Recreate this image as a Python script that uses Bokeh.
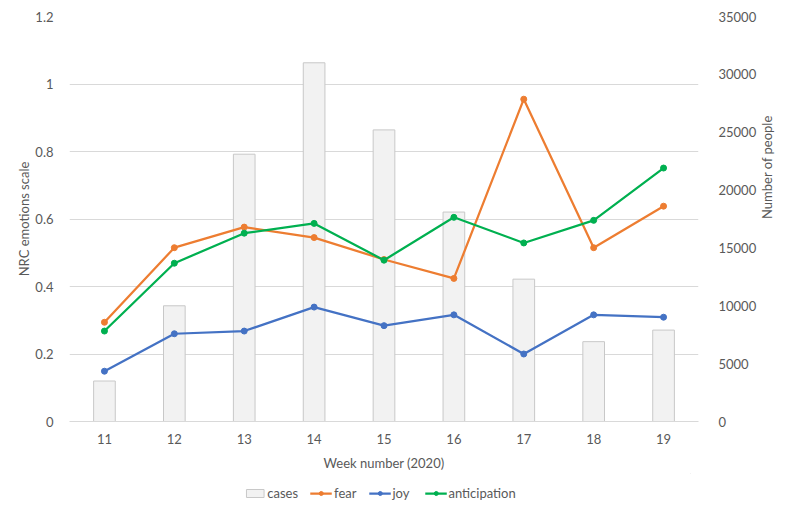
import math
from bokeh.plotting import figure
from bokeh.layouts import column
from bokeh.models import (FactorRange, Range1d, LinearAxis, Legend, LegendItem,
                          FixedTicker, NumeralTickFormatter, ColumnDataSource)
from bokeh.embed import file_html
from bokeh.resources import INLINE

weeks = ["11", "12", "13", "14", "15", "16", "17", "18", "19"]
cases = [3500, 10000, 23100, 31000, 25200, 18100, 12300, 6900, 7900]
fear = [0.294, 0.515, 0.576, 0.545, 0.48, 0.424, 0.955, 0.515, 0.638]
joy = [0.149, 0.26, 0.268, 0.339, 0.284, 0.316, 0.2, 0.316, 0.309]
anticipation = [0.268, 0.469, 0.558, 0.587, 0.478, 0.605, 0.529, 0.596, 0.751]
left_ticks = [0, 0.2, 0.4, 0.6, 0.8, 1, 1.2]
right_ticks = [0, 5000, 10000, 15000, 20000, 25000, 30000, 35000]

FONT = "Lato"
TXT = "#595959"
GRID = "#D9D9D9"
BAR_FILL, BAR_LINE = "#F2F2F2", "#C8C8C8"
series = [("fear", "#ED7D31"), ("joy", "#4472C4"), ("anticipation", "#00B050")]

src = ColumnDataSource(dict(week=weeks, cases=cases, fear=fear, joy=joy,
                            anticipation=anticipation))

p = figure(x_range=FactorRange(*weeks, range_padding=0), y_range=Range1d(0, 1.2),
           frame_width=629, frame_height=405, output_backend="svg", toolbar_location=None,
           min_border_left=69, min_border_right=80, min_border_top=16, min_border_bottom=4)
p.extra_y_ranges = {"cases": Range1d(0, 35000)}
p.outline_line_color = None

p.vbar(x="week", top="cases", width=0.31, source=src, y_range_name="cases",
       fill_color=BAR_FILL, line_color=BAR_LINE, line_width=1)
for name, col in series:
    p.line(x="week", y=name, source=src, line_color=col, line_width=2.25)
    p.scatter(x="week", y=name, source=src, size=6, fill_color=col, line_color=col)

# grid
p.xgrid.grid_line_color = None
p.ygrid.grid_line_color = GRID
p.ygrid.ticker = FixedTicker(ticks=left_ticks)

# left axis
ya = p.yaxis[0]
ya.ticker = FixedTicker(ticks=left_ticks)
ya.major_label_overrides = {t: ("%g" % t) for t in left_ticks}
ya.axis_line_color = None
ya.major_tick_line_color = None
ya.minor_tick_line_color = None
ya.major_label_standoff = 10
ya.axis_label = "NRC emotions scale"
ya.axis_label_standoff = 0

# right axis
ra = LinearAxis(y_range_name="cases", ticker=FixedTicker(ticks=right_ticks),
                formatter=NumeralTickFormatter(format="0"))
ra.axis_line_color = None
ra.major_tick_line_color = None
ra.minor_tick_line_color = None
ra.major_label_standoff = 14
ra.axis_label = "Number of people"
ra.axis_label_standoff = 8
ra.axis_label_orientation = math.pi / 2
p.add_layout(ra, "right")

# x axis
xa = p.xaxis[0]
xa.axis_line_color = GRID
xa.major_tick_line_color = None
xa.minor_tick_line_color = None
xa.major_label_standoff = 6
xa.axis_label = "Week number (2020)"
xa.axis_label_standoff = 8

for ax in [ya, ra, xa]:
    ax.major_label_text_font = FONT
    ax.major_label_text_font_size = "13px"
    ax.major_label_text_color = TXT
    ax.axis_label_text_font = FONT
    ax.axis_label_text_font_size = "13px"
    ax.axis_label_text_font_style = "normal"
    ax.axis_label_text_color = TXT

# legend strip (separate figure; its sample renderers sit outside the visible range)
leg = figure(width=778, height=40, output_backend="svg", toolbar_location=None,
             x_range=Range1d(0, 1), y_range=Range1d(0, 1),
             min_border_left=50, min_border_right=0, min_border_top=0, min_border_bottom=0)
leg.axis.visible = False
leg.grid.grid_line_color = None
leg.outline_line_color = None
sample = ColumnDataSource(dict(x=[5], y=[5]))
rb = leg.vbar(x="x", top="y", bottom=4.9, width=0.1, source=sample,
              fill_color=BAR_FILL, line_color=BAR_LINE, line_width=1)
items = [LegendItem(label="cases", renderers=[rb])]
for name, col in series:
    ln = leg.line(x="x", y="y", source=sample, line_color=col, line_width=2.25)
    mk = leg.scatter(x="x", y="y", source=sample, size=6, fill_color=col, line_color=col)
    items.append(LegendItem(label=name, renderers=[ln, mk]))
legend = Legend(items=items, orientation="horizontal", location="center",
                label_text_font=FONT, label_text_font_size="13px", label_text_color=TXT,
                glyph_width=22, glyph_height=10, spacing=12, label_standoff=2,
                border_line_color=None, background_fill_alpha=0, padding=4, margin=0)
leg.add_layout(legend, "center")

html = file_html(column(p, leg, spacing=0), INLINE)
open("out.html", "w").write(html)
